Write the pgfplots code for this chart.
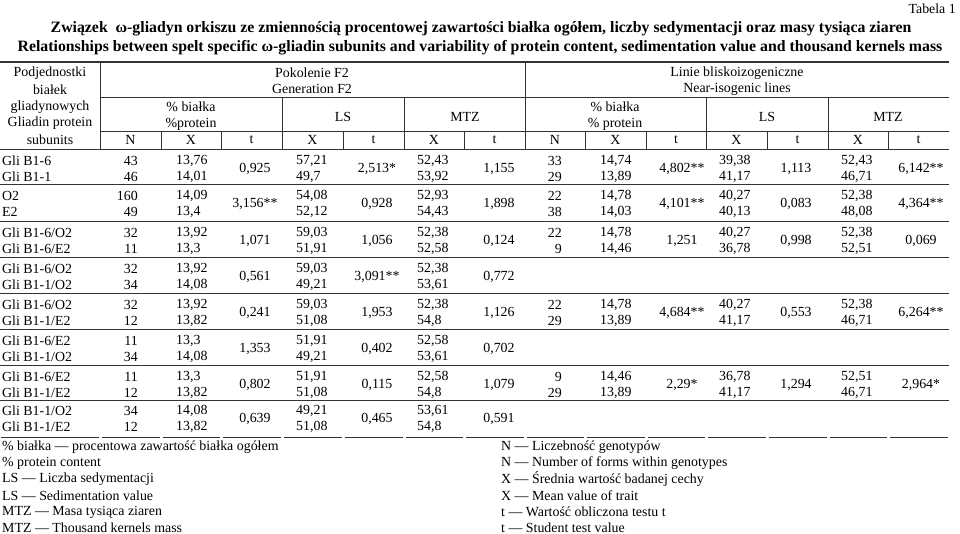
\documentclass[border=0pt]{standalone}
\usepackage{fontspec}
\setmainfont{Liberation Serif}
\usepackage{pgfplots}
\pgfplotsset{compat=1.18}
\usepackage{pgfplotstable}
\newcommand\df{\fontsize{13.9}{16}\selectfont}

% right-aligned cells (N columns)
\pgfplotstableread{
x y label
138 161 43
138 177 46
138 196 160
138 212 49
138 233 32
138 249 11
138 269 32
138 285 34
138 305 32
138 321 12
138 341 11
138 357 34
138 377 11
138 393 12
138 411 34
138 427 12
562 161 33
562 177 29
562 196 22
562 212 38
562 233 22
562 249 9
562 305 22
562 321 29
562 377 9
562 393 29
}\rightcells

% left-aligned cells (row names, X columns)
\pgfplotstableread{
x y label
2 161 {Gli B1-6}
2 177 {Gli B1-1}
2 196 O2
2 212 E2
2 233 {Gli B1-6/O2}
2 249 {Gli B1-6/E2}
2 269 {Gli B1-6/O2}
2 285 {Gli B1-1/O2}
2 305 {Gli B1-6/O2}
2 321 {Gli B1-1/E2}
2 341 {Gli B1-6/E2}
2 357 {Gli B1-1/O2}
2 377 {Gli B1-6/E2}
2 393 {Gli B1-1/E2}
2 411 {Gli B1-1/O2}
2 427 {Gli B1-1/E2}
176 161 13,76
176 177 14,01
176 196 14,09
176 212 13,4
176 233 13,92
176 249 13,3
176 269 13,92
176 285 14,08
176 305 13,92
176 321 13,82
176 341 13,3
176 357 14,08
176 377 13,3
176 393 13,82
176 411 14,08
176 427 13,82
296 161 57,21
296 177 49,7
296 196 54,08
296 212 52,12
296 233 59,03
296 249 51,91
296 269 59,03
296 285 49,21
296 305 59,03
296 321 51,08
296 341 51,91
296 357 49,21
296 377 51,91
296 393 51,08
296 411 49,21
296 427 51,08
417 161 52,43
417 177 53,92
417 196 52,93
417 212 54,43
417 233 52,38
417 249 52,58
417 269 52,38
417 285 53,61
417 305 52,38
417 321 54,8
417 341 52,58
417 357 53,61
417 377 52,58
417 393 54,8
417 411 53,61
417 427 54,8
600 161 14,74
600 177 13,89
600 196 14,78
600 212 14,03
600 233 14,78
600 249 14,46
600 305 14,78
600 321 13,89
600 377 14,46
600 393 13,89
719 161 39,38
719 177 41,17
719 196 40,27
719 212 40,13
719 233 40,27
719 249 36,78
719 305 40,27
719 321 41,17
719 377 36,78
719 393 41,17
841 161 52,43
841 177 46,71
841 196 52,38
841 212 48,08
841 233 52,38
841 249 52,51
841 305 52,38
841 321 46,71
841 377 52,51
841 393 46,71
}\leftcells

% centred cells (t columns)
\pgfplotstableread{
x y label
255 169 0,925
255 204 3,156**
255 241 1,071
255 277 0,561
255 313 0,241
255 349 1,353
255 385 0,802
255 419 0,639
377 169 2,513*
377 204 0,928
377 241 1,056
377 277 3,091**
377 313 1,953
377 349 0,402
377 385 0,115
377 419 0,465
499 169 1,155
499 204 1,898
499 241 0,124
499 277 0,772
499 313 1,126
499 349 0,702
499 385 1,079
499 419 0,591
682 169 4,802**
682 204 4,101**
682 241 1,251
682 313 4,684**
682 385 2,29*
796 169 1,113
796 204 0,083
796 241 0,998
796 313 0,553
796 385 1,294
921 169 6,142**
921 204 4,364**
921 241 0,069
921 313 6,264**
921 385 2,964*
}\centercells

\begin{document}
\begin{tikzpicture}
\begin{axis}[hide axis, scale only axis, width=960pt, height=534pt,
  xmin=0, xmax=960, ymin=0, ymax=534, y dir=reverse, clip=false]

\addplot[draw=none, nodes near coords, point meta=explicit symbolic,
  nodes near coords style={anchor=east, inner sep=0pt, font=\df}]
  table[x=x, y=y, meta=label]{\rightcells};
\addplot[draw=none, nodes near coords, point meta=explicit symbolic,
  nodes near coords style={anchor=west, inner sep=0pt, font=\df}]
  table[x=x, y=y, meta=label]{\leftcells};
\addplot[draw=none, nodes near coords, point meta=explicit symbolic,
  nodes near coords style={anchor=center, inner sep=0pt, font=\df}]
  table[x=x, y=y, meta=label]{\centercells};

% titles
\node[anchor=east, inner sep=0pt, font=\df] at (axis cs:956,9) {Tabela 1};
\node[inner sep=0pt, font=\bfseries\fontsize{15.8}{18}\selectfont] at (axis cs:481,29)
  {Związek\ \ ω-gliadyn orkiszu ze zmiennością procentowej zawartości białka ogółem, liczby sedymentacji oraz masy tysiąca ziaren};
\node[inner sep=0pt, font=\bfseries\fontsize{15.8}{18}\selectfont] at (axis cs:480,48)
  {Relationships between spelt specific ω-gliadin subunits and variability of protein content, sedimentation value and thousand kernels mass};

% header
\node[inner sep=0pt, font=\df] at (axis cs:50,73) {Podjednostki};
\node[inner sep=0pt, font=\df] at (axis cs:50,90) {białek};
\node[inner sep=0pt, font=\df] at (axis cs:50,107) {gliadynowych};
\node[inner sep=0pt, font=\df] at (axis cs:50,123) {Gliadin protein};
\node[inner sep=0pt, font=\df] at (axis cs:50,140) {subunits};
\node[inner sep=0pt, font=\df] at (axis cs:312,73) {Pokolenie F2};
\node[inner sep=0pt, font=\df] at (axis cs:312,89) {Generation F2};
\node[inner sep=0pt, font=\df] at (axis cs:737,73) {Linie bliskoizogeniczne};
\node[inner sep=0pt, font=\df] at (axis cs:737,89) {Near-isogenic lines};
\node[inner sep=0pt, font=\df] at (axis cs:191,107) {\% białka};
\node[inner sep=0pt, font=\df] at (axis cs:191,124) {\%protein};
\node[inner sep=0pt, font=\df] at (axis cs:343,117) {LS};
\node[inner sep=0pt, font=\df] at (axis cs:465,117) {MTZ};
\node[inner sep=0pt, font=\df] at (axis cs:615,107) {\% białka};
\node[inner sep=0pt, font=\df] at (axis cs:615,124) {\% protein};
\node[inner sep=0pt, font=\df] at (axis cs:767,117) {LS};
\node[inner sep=0pt, font=\df] at (axis cs:888,117) {MTZ};
\node[inner sep=0pt, font=\df] at (axis cs:130.5,140) {N};
\node[inner sep=0pt, font=\df] at (axis cs:191,140) {X};
\node[inner sep=0pt, font=\df] at (axis cs:251.5,140) {t};
\node[inner sep=0pt, font=\df] at (axis cs:312.5,140) {X};
\node[inner sep=0pt, font=\df] at (axis cs:373.5,140) {t};
\node[inner sep=0pt, font=\df] at (axis cs:434,140) {X};
\node[inner sep=0pt, font=\df] at (axis cs:494.5,140) {t};
\node[inner sep=0pt, font=\df] at (axis cs:555,140) {N};
\node[inner sep=0pt, font=\df] at (axis cs:615.5,140) {X};
\node[inner sep=0pt, font=\df] at (axis cs:676,140) {t};
\node[inner sep=0pt, font=\df] at (axis cs:736.5,140) {X};
\node[inner sep=0pt, font=\df] at (axis cs:797.5,140) {t};
\node[inner sep=0pt, font=\df] at (axis cs:858,140) {X};
\node[inner sep=0pt, font=\df] at (axis cs:918.5,140) {t};

% footnotes
\node[anchor=west, inner sep=0pt, font=\df] at (axis cs:2,447) {\% białka — procentowa zawartość białka ogółem};
\node[anchor=west, inner sep=0pt, font=\df] at (axis cs:2,463) {\% protein content};
\node[anchor=west, inner sep=0pt, font=\df] at (axis cs:2,479) {LS — Liczba sedymentacji};
\node[anchor=west, inner sep=0pt, font=\df] at (axis cs:2,496) {LS — Sedimentation value};
\node[anchor=west, inner sep=0pt, font=\df] at (axis cs:2,512) {MTZ — Masa tysiąca ziaren};
\node[anchor=west, inner sep=0pt, font=\df] at (axis cs:2,528) {MTZ — Thousand kernels mass};
\node[anchor=west, inner sep=0pt, font=\df] at (axis cs:501,447) {N — Liczebność genotypów};
\node[anchor=west, inner sep=0pt, font=\df] at (axis cs:501,463) {N — Number of forms within genotypes};
\node[anchor=west, inner sep=0pt, font=\df] at (axis cs:501,479) {X — Średnia wartość badanej cechy};
\node[anchor=west, inner sep=0pt, font=\df] at (axis cs:501,496) {X — Mean value of trait};
\node[anchor=west, inner sep=0pt, font=\df] at (axis cs:501,512) {t — Wartość obliczona testu t};
\node[anchor=west, inner sep=0pt, font=\df] at (axis cs:501,528) {t — Student test value};

% rules
\draw[black!80, line width=1.3pt] (axis cs:0,62) -- (axis cs:949,62);
\draw[black!80, line width=0.9pt] (axis cs:100,97) -- (axis cs:949,97);
\draw[black!80, line width=0.9pt] (axis cs:100,131) -- (axis cs:949,131);
\draw[black!80, line width=0.9pt] (axis cs:0,149) -- (axis cs:949,149);
\draw[black!80, line width=0.9pt] (axis cs:0,184) -- (axis cs:949,184);
\draw[black!80, line width=0.9pt] (axis cs:0,221) -- (axis cs:949,221);
\draw[black!80, line width=0.9pt] (axis cs:0,257) -- (axis cs:949,257);
\draw[black!80, line width=0.9pt] (axis cs:0,293) -- (axis cs:949,293);
\draw[black!80, line width=0.9pt] (axis cs:0,329) -- (axis cs:949,329);
\draw[black!80, line width=0.9pt] (axis cs:0,365) -- (axis cs:949,365);
\draw[black!80, line width=0.9pt] (axis cs:0,400) -- (axis cs:949,400);
\draw[black!80, line width=0.9pt] (axis cs:100,62) -- (axis cs:100,149);
\draw[black!80, line width=0.9pt] (axis cs:525,62) -- (axis cs:525,149);
\draw[black!80, line width=0.9pt] (axis cs:282,97) -- (axis cs:282,149);
\draw[black!80, line width=0.9pt] (axis cs:404,97) -- (axis cs:404,149);
\draw[black!80, line width=0.9pt] (axis cs:706,97) -- (axis cs:706,149);
\draw[black!80, line width=0.9pt] (axis cs:828,97) -- (axis cs:828,149);
\draw[black!80, line width=0.9pt] (axis cs:161,131) -- (axis cs:161,149);
\draw[black!80, line width=0.9pt] (axis cs:221,131) -- (axis cs:221,149);
\draw[black!80, line width=0.9pt] (axis cs:343,131) -- (axis cs:343,149);
\draw[black!80, line width=0.9pt] (axis cs:464,131) -- (axis cs:464,149);
\draw[black!80, line width=0.9pt] (axis cs:585,131) -- (axis cs:585,149);
\draw[black!80, line width=0.9pt] (axis cs:646,131) -- (axis cs:646,149);
\draw[black!80, line width=0.9pt] (axis cs:767,131) -- (axis cs:767,149);
\draw[black!80, line width=0.9pt] (axis cs:888,131) -- (axis cs:888,149);
% bottom rule, broken at column boundaries
\draw[black!80, line width=0.9pt] (axis cs:1,437) -- (axis cs:98.5,437);
\draw[black!80, line width=0.9pt] (axis cs:101.5,437) -- (axis cs:159.5,437);
\draw[black!80, line width=0.9pt] (axis cs:162.5,437) -- (axis cs:219.5,437);
\draw[black!80, line width=0.9pt] (axis cs:222.5,437) -- (axis cs:280.5,437);
\draw[black!80, line width=0.9pt] (axis cs:283.5,437) -- (axis cs:341.5,437);
\draw[black!80, line width=0.9pt] (axis cs:344.5,437) -- (axis cs:402.5,437);
\draw[black!80, line width=0.9pt] (axis cs:405.5,437) -- (axis cs:462.5,437);
\draw[black!80, line width=0.9pt] (axis cs:465.5,437) -- (axis cs:523.5,437);
\draw[black!80, line width=0.9pt] (axis cs:526.5,437) -- (axis cs:583.5,437);
\draw[black!80, line width=0.9pt] (axis cs:586.5,437) -- (axis cs:644.5,437);
\draw[black!80, line width=0.9pt] (axis cs:647.5,437) -- (axis cs:704.5,437);
\draw[black!80, line width=0.9pt] (axis cs:707.5,437) -- (axis cs:765.5,437);
\draw[black!80, line width=0.9pt] (axis cs:768.5,437) -- (axis cs:826.5,437);
\draw[black!80, line width=0.9pt] (axis cs:829.5,437) -- (axis cs:886.5,437);
\draw[black!80, line width=0.9pt] (axis cs:889.5,437) -- (axis cs:948,437);
\end{axis}
\pgfresetboundingbox
\path (0,0) rectangle (960pt,534pt);
\end{tikzpicture}
\end{document}
